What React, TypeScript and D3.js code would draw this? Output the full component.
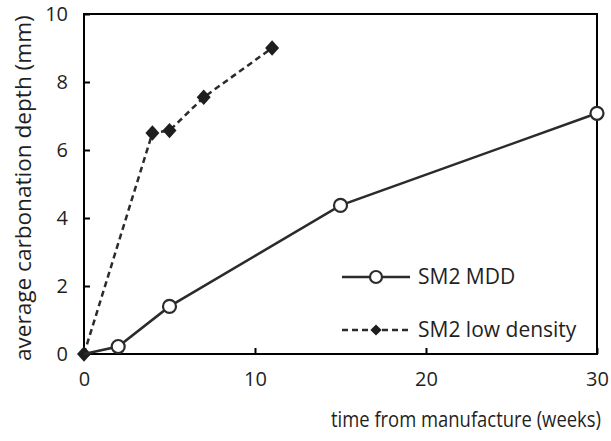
import React, { useEffect, useRef } from 'react';
import * as d3 from 'd3';

// SM2 MDD
const mddWeeks = [0, 2, 5, 15, 30];
const mddDepth = [0, 0.22, 1.4, 4.37, 7.08];
// SM2 low density
const lowWeeks = [0, 4, 5, 7, 11];
const lowDepth = [0, 6.5, 6.57, 7.55, 9.0];

const xTicks = [0, 10, 20, 30];
const yTicks = [0, 2, 4, 6, 8, 10];
const seriesNames = ['SM2 MDD', 'SM2 low density'];

const App = () => {
  const ref = useRef<SVGSVGElement>(null);

  useEffect(() => {
    const width = 611;
    const height = 441;
    const margin = { left: 84, right: 14, top: 14, bottom: 87 };
    const font = "'Open Sans', sans-serif";
    const ink = '#2b2b2b';
    const textColor = '#1f1f1f';

    const svg = d3.select(ref.current)
      .attr('width', width)
      .attr('height', height);
    svg.selectAll('*').remove();

    const x = d3.scaleLinear().domain([0, 30]).range([margin.left, width - margin.right]);
    const y = d3.scaleLinear().domain([0, 10]).range([height - margin.bottom, margin.top]);

    // frame
    svg.append('rect')
      .attr('x', x(0)).attr('y', y(10))
      .attr('width', x(30) - x(0)).attr('height', y(0) - y(10))
      .attr('fill', 'none').attr('stroke', '#000').attr('stroke-width', 2);

    // axes with inward ticks
    const xAxis = svg.append('g')
      .attr('transform', `translate(0, ${y(0)})`)
      .call(d3.axisBottom(x).tickValues(xTicks).tickSizeInner(-6).tickSizeOuter(0).tickPadding(18));
    const yAxis = svg.append('g')
      .attr('transform', `translate(${x(0)}, 0)`)
      .call(d3.axisLeft(y).tickValues(yTicks).tickSizeInner(-6).tickSizeOuter(0).tickPadding(16));
    [xAxis, yAxis].forEach(g => {
      g.select('.domain').remove();
      g.selectAll('line').attr('stroke', '#000').attr('stroke-width', 2);
      g.selectAll('text').attr('font-family', font).attr('font-size', 20).attr('fill', textColor);
    });

    // axis titles, squeezed to the reference widths (narrow face)
    const xTitle = svg.append('text')
      .attr('font-family', font).attr('font-size', 21).attr('fill', textColor)
      .text('time from manufacture (weeks)');
    const xw = (xTitle.node() as SVGTextElement).getComputedTextLength();
    xTitle.attr('transform', `translate(331, 427) scale(${270 / xw}, 1)`);

    const yTitle = svg.append('text')
      .attr('font-family', font).attr('font-size', 21).attr('fill', textColor)
      .text('average carbonation depth (mm)');
    const yw = (yTitle.node() as SVGTextElement).getComputedTextLength();
    yTitle.attr('transform', `translate(31, 361) rotate(-90) scale(${346 / yw}, 1)`);

    const mdd = mddWeeks.map((w, i) => [w, mddDepth[i]] as [number, number]);
    const low = lowWeeks.map((w, i) => [w, lowDepth[i]] as [number, number]);
    const line = d3.line<[number, number]>().x(d => x(d[0])).y(d => y(d[1]));
    const diamond = d3.symbol().type(d3.symbolDiamond2).size(125);

    // low density series
    svg.append('path')
      .datum(low)
      .attr('d', line)
      .attr('fill', 'none').attr('stroke', ink).attr('stroke-width', 2.5)
      .attr('stroke-dasharray', '6,4');
    svg.selectAll('.dia')
      .data(low)
      .join('path')
      .attr('transform', d => `translate(${x(d[0])}, ${y(d[1])}) scale(1, 1.1)`)
      .attr('d', diamond)
      .attr('fill', '#1e1e1e');

    // MDD series
    svg.append('path')
      .datum(mdd)
      .attr('d', line)
      .attr('fill', 'none').attr('stroke', ink).attr('stroke-width', 2.5);
    svg.selectAll('.circ')
      .data(mdd.slice(1))
      .join('circle')
      .attr('cx', d => x(d[0])).attr('cy', d => y(d[1]))
      .attr('r', 6.5)
      .attr('fill', '#fff').attr('stroke', ink).attr('stroke-width', 2.2);

    // legend
    const legend = svg.append('g');
    const rows = [277, 330];
    seriesNames.forEach((name, i) => {
      const ly = rows[i];
      legend.append('line')
        .attr('x1', 342).attr('x2', 410).attr('y1', ly).attr('y2', ly)
        .attr('stroke', ink).attr('stroke-width', 2.5)
        .attr('stroke-dasharray', i === 1 ? '6,4' : null);
      if (i === 0) {
        legend.append('circle')
          .attr('cx', 376).attr('cy', ly).attr('r', 6)
          .attr('fill', '#fff').attr('stroke', ink).attr('stroke-width', 2.2);
      } else {
        legend.append('path')
          .attr('transform', `translate(376, ${ly})`)
          .attr('d', d3.symbol().type(d3.symbolDiamond2).size(80))
          .attr('fill', '#1e1e1e');
      }
      legend.append('text')
        .attr('x', 418).attr('y', ly)
        .attr('dy', '0.35em')
        .attr('font-family', font).attr('font-size', 21).attr('fill', textColor)
        .text(name);
    });
  }, []);

  return <svg ref={ref} style={{ position: 'absolute', left: 0, top: 0 }}></svg>;
};

export default App;
